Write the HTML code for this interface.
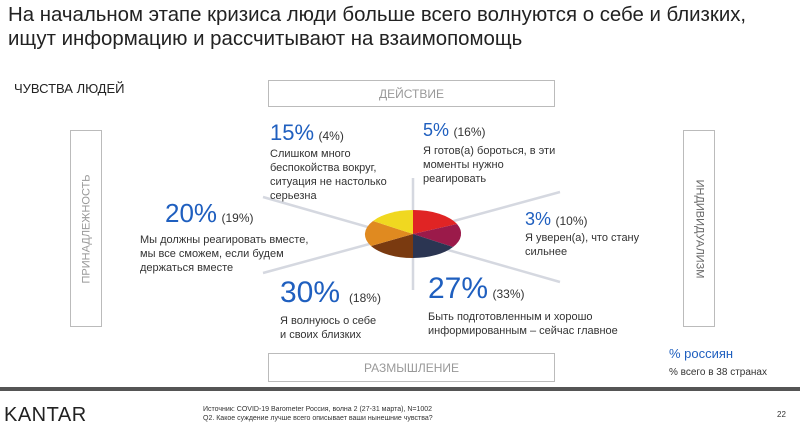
<!DOCTYPE html>
<html><head><meta charset="utf-8"><style>
body{margin:0;width:800px;height:433px;background:#fff;font-family:"Liberation Sans","Noto Sans CJK SC",sans-serif;position:relative;overflow:hidden;color:#333}
.a{position:absolute;white-space:nowrap}
.box{position:absolute;border:1px solid #bbb;color:#999;font-size:12px;display:flex;align-items:center;justify-content:center}
.p{color:#1f5fbf;font-size:22px}
.s{font-size:12px;color:#333}
.t{font-size:11px;line-height:14px;color:#333}
.rot{font-size:11px;white-space:nowrap}
</style></head><body>
<div class="a" style="left:8px;top:3px;font-size:20.4px;line-height:24px;color:#222">На начальном этапе кризиса люди больше всего волнуются о себе и близких,<br>ищут информацию и рассчитывают на взаимопомощь</div>
<div class="a" style="left:14px;top:81px;font-size:13px;color:#222">ЧУВСТВА ЛЮДЕЙ</div>
<div class="box" style="left:268px;top:80px;width:285px;height:25px">ДЕЙСТВИЕ</div>
<div class="box" style="left:268px;top:353px;width:285px;height:27px">РАЗМЫШЛЕНИЕ</div>
<div class="box" style="left:70px;top:130px;width:30px;height:195px"><span class="rot" style="transform:rotate(-90deg)">ПРИНАДЛЕЖНОСТЬ</span></div>
<div class="box" style="left:683px;top:130px;width:30px;height:195px"><span class="rot" style="transform:rotate(90deg);color:#666">ИНДИВИДУАЛИЗМ</span></div>
<svg class="a" style="left:0;top:0" width="800" height="433">
<g stroke="#d5d8e0" stroke-width="2.5">
<line x1="413" y1="178" x2="413" y2="290"/>
<line x1="263" y1="197" x2="560" y2="282"/>
<line x1="263" y1="273" x2="560" y2="192"/>
</g>
<g>
<path d="M413,234 L413,210 A48,24 0 0 1 457,224 Z" fill="#e02424"/>
<path d="M413,234 L457,224 A48,24 0 0 1 453,247 Z" fill="#9b1a4a"/>
<path d="M413,234 L453,247 A48,24 0 0 1 413,258 Z" fill="#2b3552"/>
<path d="M413,234 L413,258 A48,24 0 0 1 371,246 Z" fill="#7a3a10"/>
<path d="M413,234 L371,246 A48,24 0 0 1 373,221 Z" fill="#e08a20"/>
<path d="M413,234 L373,221 A48,24 0 0 1 413,210 Z" fill="#f0d820"/>
</g>
<rect x="0" y="387" width="800" height="4" fill="#555"/>
</svg>
<div class="a" style="left:270px;top:120px"><span class="p">15%</span> <span class="s">(4%)</span></div>
<div class="a t" style="left:270px;top:147px">Слишком много<br>беспокойства вокруг,<br>ситуация не настолько<br>серьезна</div>
<div class="a" style="left:423px;top:120px"><span class="p" style="font-size:18px">5%</span> <span class="s">(16%)</span></div>
<div class="a t" style="left:423px;top:144px">Я готов(а) бороться, в эти<br>моменты нужно<br>реагировать</div>
<div class="a" style="left:525px;top:209px"><span class="p" style="font-size:18px">3%</span> <span class="s">(10%)</span></div>
<div class="a t" style="left:525px;top:231px">Я уверен(а), что стану<br>сильнее</div>
<div class="a" style="left:165px;top:198px"><span class="p" style="font-size:26px">20%</span> <span class="s">(19%)</span></div>
<div class="a t" style="left:140px;top:233px">Мы должны реагировать вместе,<br>мы все сможем, если будем<br>держаться вместе</div>
<div class="a" style="left:280px;top:276px"><span class="p" style="font-size:30px">30%</span> &nbsp;<span class="s">(18%)</span></div>
<div class="a t" style="left:280px;top:314px">Я волнуюсь о себе<br>и своих близких</div>
<div class="a" style="left:428px;top:272px"><span class="p" style="font-size:30px">27%</span> <span class="s">(33%)</span></div>
<div class="a t" style="left:428px;top:310px">Быть подготовленным и хорошо<br>информированным – сейчас главное</div>
<div class="a" style="left:669px;top:346px;color:#1f5fbf;font-size:13px">% россиян</div>
<div class="a" style="left:669px;top:367px;font-size:10px;color:#333">% всего в 38 странах</div>
<div class="a" style="left:4px;top:404px;font-size:20px;color:#222;letter-spacing:0.5px">KANTAR</div>
<div class="a" style="left:203px;top:405px;font-size:7px;line-height:9px;color:#333">Источник: COVID-19 Barometer Россия, волна 2 (27-31 марта), N=1002<br>Q2. Какое суждение лучше всего описывает ваши нынешние чувства?</div>
<div class="a" style="left:777px;top:410px;font-size:8px;color:#333">22</div>
</body></html>
